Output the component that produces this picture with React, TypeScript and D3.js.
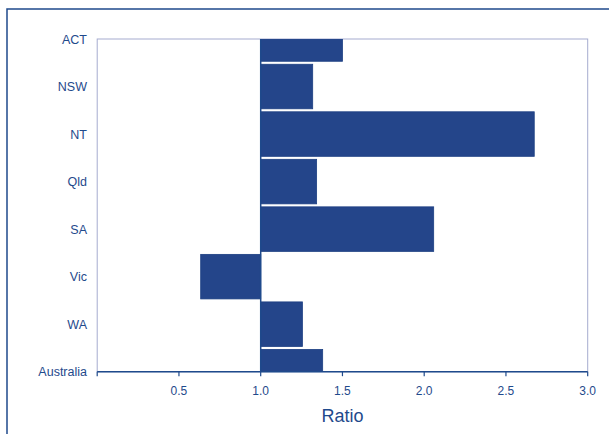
import React from "react";
import * as d3 from "d3";

const categories = ["ACT", "NSW", "NT", "Qld", "SA", "Vic", "WA", "Australia"];
const ratios = [1.5, 1.318, 2.673, 1.342, 2.058, 0.633, 1.255, 1.379];
const xTicks = [0, 0.5, 1.0, 1.5, 2.0, 2.5, 3.0];
const xTickLabels = ["", "0.5", "1.0", "1.5", "2.0", "2.5", "3.0"];
const baseline = 1.0;
const axisTitle = "Ratio";

const W = 609;
const H = 434;
const left = 97.2;
const right = 587.7;
const top = 39;
const bottom = 371.7;
const dark = "#1f4a8c";
const barFill = "#24458a";
const frameCol = "#a6accf";
const font = "'Liberation Sans', Arial, sans-serif";

export default function App() {
  const x = d3.scaleLinear().domain([0, 3]).range([left, right]);
  const y = d3.scalePoint<string>().domain(categories).range([top, bottom]);
  const step = y.step();
  const barH = step - 3;

  return (
    <svg
      width={W}
      height={H}
      style={{ position: "absolute", left: 0, top: 0, background: "#fff" }}
      fontFamily={font}
    >
      <defs>
        <clipPath id="plotClip">
          <rect x={left} y={top} width={right - left} height={bottom - top} />
        </clipPath>
      </defs>
      <rect x={7} y={9} width={W} height={H} fill="none" stroke={dark} strokeWidth={1.5} />
      <rect x={left} y={top} width={right - left} height={bottom - top} fill="#fff" stroke={frameCol} strokeWidth={1} />
      <g clipPath="url(#plotClip)">
        {categories.map((c, i) => {
          const v = ratios[i];
          const x0 = x(Math.min(v, baseline));
          const x1 = x(Math.max(v, baseline));
          const cy = y(c)!;
          return (
            <rect
              key={c}
              x={x0}
              y={cy - barH / 2}
              width={x1 - x0}
              height={barH}
              fill={barFill}
              stroke="#1c3f82"
              strokeWidth={0.8}
            />
          );
        })}
      </g>
      <line x1={x(baseline)} x2={x(baseline)} y1={top} y2={bottom} stroke={dark} strokeWidth={1.5} />
      <line x1={left} x2={right} y1={bottom} y2={bottom} stroke={dark} strokeWidth={1.5} />
      {xTicks.map((t, i) => (
        <g key={t}>
          <line x1={x(t)} x2={x(t)} y1={bottom} y2={bottom + 4.5} stroke={dark} strokeWidth={1.2} />
          <text x={x(t)} y={395} textAnchor="middle" fontSize={12} fill={dark}>
            {xTickLabels[i]}
          </text>
        </g>
      ))}
      {categories.map((c) => (
        <text key={c} x={87} y={y(c)! + 4.5} textAnchor="end" fontSize={12.5} fill={dark}>
          {c}
        </text>
      ))}
      <text x={(left + right) / 2} y={422} textAnchor="middle" fontSize={18} fill={dark}>
        {axisTitle}
      </text>
    </svg>
  );
}
